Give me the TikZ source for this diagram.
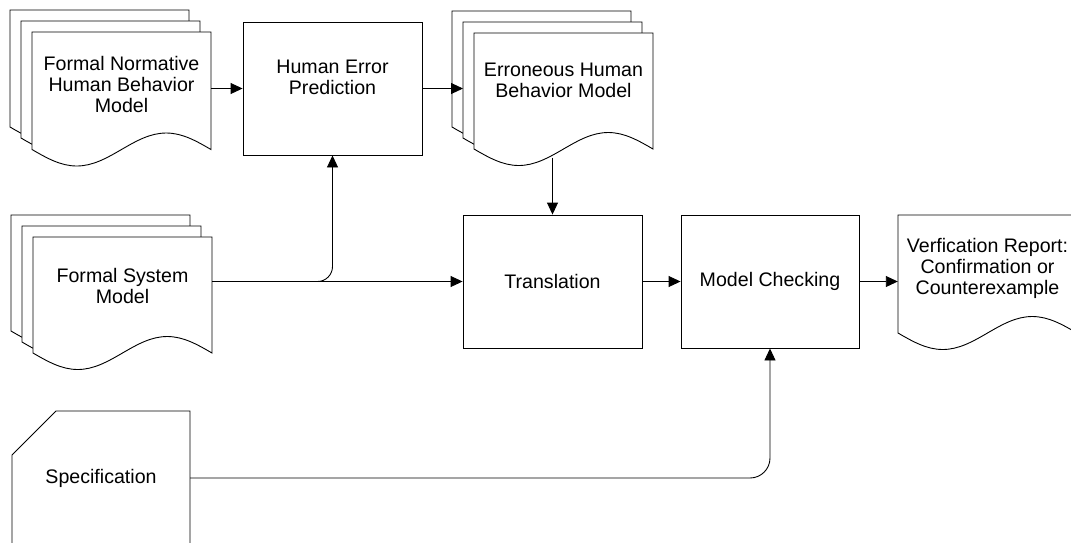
\documentclass[tikz,border=0pt]{standalone}
\usepackage{fontspec}
\setmainfont{Liberation Sans}
\usetikzlibrary{arrows.meta}
\newcommand\docshape[4]{% x0, ytop, W, ybottom-left
  \draw[docline] (#1,#2) -- ({#1+#3},#2) -- ({#1+#3},#4)
    sin ({#1+0.75*#3},{#4-16.5}) cos ({#1+0.5*#3},#4)
    sin ({#1+0.25*#3},{#4+16.5}) cos (#1,#4) -- cycle;}
\begin{document}
\begin{tikzpicture}[x=1pt,y=-1pt,
  docline/.style={draw=black,fill=white,line width=0.9pt},
  procbox/.style={draw=black,fill=white,line width=0.9pt,inner sep=0pt},
  txt/.style={align=center,inner sep=0pt,font=\fontsize{19.6}{21}\selectfont},
  conn/.style={draw=black,line width=0.9pt,-{Triangle[length=12pt,width=11pt]}}]
\useasboundingbox (0,0) rectangle (1071,542);
% Formal Normative Human Behavior Model stack
\docshape{10}{10}{179}{127}
\docshape{21}{21}{179}{138}
\docshape{32}{32}{179}{149.5}
% Erroneous Human Behavior Model stack
\docshape{452}{11}{179}{127}
\docshape{463}{22}{179}{138}
\coordinate (errmid) at (463,22);
\docshape{474}{33}{179}{149}
\coordinate (errbot) at (552.5,157.5);
% Formal System Model stack
\docshape{11}{215}{179}{331}
\docshape{22}{226}{179}{342}
\docshape{33}{237}{179}{353}
% Verification report
\docshape{898}{215}{179}{333}
% Specification
\draw[line width=0.9pt] (190,545) -- (190,411) -- (56,411) -- (12,455) -- (12,545);
% Boxes
\node[procbox,minimum width=179pt,minimum height=133pt] (hep) at (332.5,88.5) {};
\node[procbox,minimum width=179pt,minimum height=133pt] (trans) at (552.5,281.5) {};
\node[procbox,minimum width=178pt,minimum height=133pt] (mc) at (770,281.5) {};
% Texts
\node[txt,minimum width=179pt] (fn) at (121.5,84) {Formal Normative\\Human Behavior\\Model};
\node[txt] (heptext) at (332.5,77.5) {Human Error\\Prediction};
\node[txt,minimum width=179pt] (err) at (563.5,80) {Erroneous Human\\Behavior Model};
\node[txt,minimum width=179pt] (fs) at (122.5,286) {Formal System\\Model};
\node[txt] (transtext) at (552.5,281.5) {Translation};
\node[txt] (mctext) at (770,281.5) {Model Checking};
\node[txt,minimum width=179pt] (vr) at (987.5,268) {Verfication Report:\\Confirmation or\\Counterexample};
\node[txt,minimum width=178pt] (spec) at (101,478) {Specification};
% Connectors
\draw[conn] (fn.east |- hep.west) -- (hep.west);
\draw[conn] (hep.east) -- (hep.east -| errmid);
\draw[conn] (errbot) -- (trans.north);
\draw[conn] (fs.east |- trans.west) -- (trans.west);
\draw[conn,rounded corners=15pt] (fs.east |- trans.west) -| (hep.south);
\draw[conn] (trans.east) -- (mc.west);
\draw[conn] (mc.east) -- (mc.east -| vr.west);
\draw[conn,rounded corners=20pt] (spec.east) -| (mc.south);
\end{tikzpicture}
\end{document}
